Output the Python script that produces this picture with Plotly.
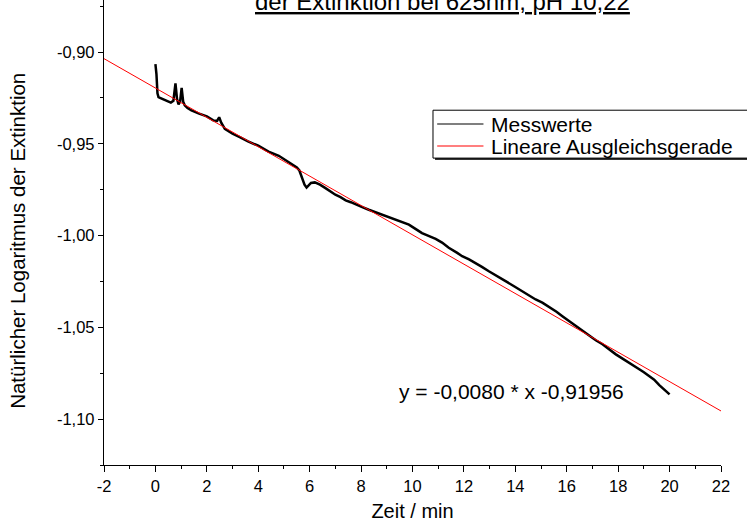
import plotly.graph_objects as go

zeit_min = [0.0, 0.04, 0.08, 0.12, 0.18, 0.3, 0.45, 0.6, 0.7, 0.78, 0.84, 0.9, 0.96, 1.02, 1.08,
            1.14, 1.25, 1.4, 1.7, 2.0, 2.25, 2.4, 2.48, 2.56, 2.7, 3.0, 3.3, 3.6, 4.0, 4.4, 4.8,
            5.05, 5.3, 5.5, 5.6, 5.7, 5.8, 5.88, 5.95, 6.05, 6.2, 6.4, 6.6, 6.8, 7.0, 7.2, 7.4,
            7.6, 7.8, 8.0, 8.3, 8.6, 8.82, 9.1, 9.47, 9.86, 10.1, 10.37, 10.6, 10.9, 11.15,
            11.41, 11.74, 11.93, 12.2, 12.45, 12.7, 12.97, 13.3, 13.62, 13.95, 14.27, 14.55,
            14.79, 15.05, 15.31, 15.6, 15.83, 16.1, 16.35, 16.6, 16.87, 17.13, 17.39, 17.65,
            17.91, 18.17, 18.43, 18.63, 18.82, 19.0, 19.21, 19.4, 19.6, 19.8, 20.0]
ln_ext = [-0.9065, -0.912, -0.9225, -0.9245, -0.925, -0.9258, -0.9265, -0.9275, -0.9265, -0.917,
          -0.9255, -0.9285, -0.927, -0.9195, -0.927, -0.929, -0.9305, -0.9318, -0.9335, -0.935,
          -0.9372, -0.9375, -0.9355, -0.9385, -0.9418, -0.9445, -0.9465, -0.9487, -0.951,
          -0.9542, -0.9565, -0.9587, -0.9608, -0.9628, -0.9645, -0.968, -0.9722, -0.9738,
          -0.9725, -0.9713, -0.971, -0.9722, -0.974, -0.9758, -0.9777, -0.979, -0.9808,
          -0.9818, -0.9832, -0.9842, -0.9859, -0.9875, -0.9886, -0.9902, -0.9922, -0.994,
          -0.9962, -0.9986, -1.0000, -1.0018, -1.0038, -1.0066, -1.0094, -1.0112, -1.013,
          -1.0148, -1.017, -1.0194, -1.022, -1.0248, -1.0276, -1.0303, -1.0327, -1.0348,
          -1.0365, -1.0388, -1.0415, -1.0439, -1.0466, -1.0493, -1.052, -1.0547, -1.057,
          -1.0592, -1.062, -1.0647, -1.067, -1.0692, -1.071, -1.0728, -1.0745, -1.0768,
          -1.0785, -1.0815, -1.084, -1.0865]

# Lineare Ausgleichsgerade end points
fit_x = [-2.0, 22.0]
fit_y = [-0.90356, -1.09556]

series_names = ["Messwerte", "Lineare Ausgleichsgerade"]
series_colors = ["black", "red"]

x_tickvals = [-2, 0, 2, 4, 6, 8, 10, 12, 14, 16, 18, 20, 22]
x_ticktext = ["-2", "0", "2", "4", "6", "8", "10", "12", "14", "16", "18", "20", "22"]
y_tickvals = [-0.90, -0.95, -1.00, -1.05, -1.10]
y_ticktext = ["-0,90", "-0,95", "-1,00", "-1,05", "-1,10"]
y_minorvals = [-0.875, -0.925, -0.975, -1.025, -1.075, -1.125]

FONT = "Liberation Sans, Arial, sans-serif"

fig = go.Figure()
fig.add_trace(go.Scatter(x=zeit_min, y=ln_ext, mode="lines", name=series_names[0],
                         line=dict(color=series_colors[0], width=2.5), showlegend=False))
fig.add_trace(go.Scatter(x=fit_x, y=fit_y, mode="lines", name=series_names[1],
                         line=dict(color=series_colors[1], width=1), showlegend=False))

# legend box (drawn as decoration, paper coordinates)
shapes = [
    dict(type="rect", xref="paper", yref="paper", x0=0.5365, x1=1.07, y0=0.656, y1=0.759,
         line=dict(width=0), fillcolor="#333333", layer="above"),
    dict(type="rect", xref="paper", yref="paper", x0=0.5332, x1=1.07, y0=0.660, y1=0.763,
         line=dict(color="black", width=1), fillcolor="white", layer="above"),
]
row_y = [0.7333, 0.686]
for name, col, ry in zip(series_names, series_colors, row_y):
    shapes.append(dict(type="line", xref="paper", yref="paper", x0=0.540, x1=0.615,
                       y0=ry, y1=ry, line=dict(color=col, width=1.2), layer="above"))

annotations = [
    dict(text="<u>der Extinktion bei 625nm, pH 10,22</u>", xref="paper", yref="paper",
         x=0.5486, y=1, xanchor="center", yanchor="bottom", yshift=-17,
         showarrow=False, font=dict(family=FONT, size=24, color="black")),
    dict(text="y = -0,0080 * x -0,91956", xref="x", yref="y", x=13.85, y=-1.085,
         xanchor="center", yanchor="middle", showarrow=False,
         font=dict(family=FONT, size=21, color="black")),
    dict(text="Natürlicher Logaritmus der Extinktion", xref="paper", yref="paper",
         x=-0.1394, y=0.482, xanchor="center", yanchor="middle", textangle=-90,
         showarrow=False, font=dict(family=FONT, size=20.5, color="black")),
]
for name, ry in zip(series_names, row_y):
    annotations.append(dict(text=name, xref="paper", yref="paper", x=0.624, y=ry,
                            xanchor="left", yanchor="middle", showarrow=False,
                            font=dict(family=FONT, size=21, color="black")))

fig.update_layout(
    width=747, height=529,
    margin=dict(l=104, r=26, t=0, b=64, autoexpand=False),
    paper_bgcolor="white", plot_bgcolor="white",
    font=dict(family=FONT, color="black", size=16.5),
    showlegend=False,
    shapes=shapes,
    annotations=annotations,
)

fig.update_xaxes(range=[-2, 22], tickmode="array", tickvals=x_tickvals, ticktext=x_ticktext,
                 ticks="outside", ticklen=6, tickwidth=1.2, tickcolor="black",
                 minor=dict(dtick=1, ticks="outside", ticklen=3, tickwidth=1.2, tickcolor="black"),
                 showline=True, linecolor="black", linewidth=1.3, showgrid=False, zeroline=False,
                 title=dict(text="Zeit / min", font=dict(family=FONT, size=20), standoff=10))
fig.update_yaxes(range=[-1.125, -0.8716], tickmode="array", tickvals=y_tickvals, ticktext=y_ticktext,
                 ticks="outside", ticklen=5, tickwidth=1.2, tickcolor="black",
                 minor=dict(tickvals=y_minorvals, ticks="outside", ticklen=3, tickwidth=1.2,
                            tickcolor="black"),
                 showline=True, linecolor="black", linewidth=1.3, showgrid=False, zeroline=False)

fig.write_html("out.html", config={"displayModeBar": False},
               post_script="document.body.style.margin='0px';")
